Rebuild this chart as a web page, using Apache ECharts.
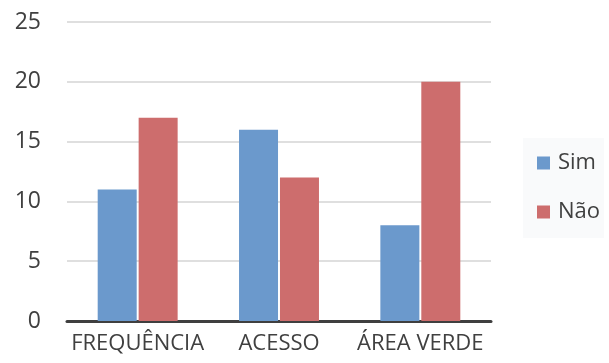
<!DOCTYPE html>
<html>
<head>
<meta charset="utf-8">
<script src="https://cdn.jsdelivr.net/npm/echarts@6/dist/echarts.min.js"></script>
<style>
  html, body { margin: 0; padding: 0; background: #ffffff; }
  #chart { width: 609px; height: 363px; }
</style>
</head>
<body>
<div id="chart"></div>
<script>
// Survey answers per topic
const categories = ['FREQUÊNCIA', 'ACESSO', 'ÁREA VERDE'];
const simValues = [11, 16, 8];
const naoValues = [17, 12, 20];
const yTicks = { min: 0, max: 25, interval: 5 };

const textColor = '#404040';
const fontFamily = '"Open Sans", "Noto Sans", sans-serif';

const chart = echarts.init(document.getElementById('chart'), null, { renderer: 'canvas' });

chart.setOption({
  animation: false,
  backgroundColor: '#ffffff',
  grid: { left: 67, right: 118, top: 22, bottom: 42, containLabel: false },
  legend: {
    orient: 'vertical',
    left: 523,
    top: 138,
    itemWidth: 13,
    itemHeight: 13,
    itemGap: 27,
    icon: 'rect',
    padding: [14, 4, 15, 14],
    backgroundColor: 'rgba(240,243,246,0.4)',
    textStyle: { color: textColor, fontSize: 22, fontWeight: 500, fontFamily: fontFamily, padding: [0, 0, 0, 3] },
    data: ['Sim', 'Não']
  },
  xAxis: {
    type: 'category',
    data: categories,
    axisTick: { show: false },
    axisLine: { show: true, lineStyle: { color: '#3f3f3f', width: 3 } },
    axisLabel: { color: textColor, fontSize: 22, fontWeight: 500, fontFamily: fontFamily, margin: 12, interval: 0 }
  },
  yAxis: {
    type: 'value',
    min: yTicks.min,
    max: yTicks.max,
    interval: yTicks.interval,
    axisLine: { show: false },
    axisTick: { show: false },
    axisLabel: { color: textColor, fontSize: 23, fontWeight: 500, fontFamily: fontFamily, margin: 26 },
    splitLine: { lineStyle: { color: '#d4d4d4', width: 1.5 } }
  },
  series: [
    {
      name: 'Sim',
      type: 'bar',
      data: simValues,
      barWidth: 39,
      barGap: '5%',
      itemStyle: { color: '#6b99cc' }
    },
    {
      name: 'Não',
      type: 'bar',
      data: naoValues,
      barWidth: 39,
      itemStyle: { color: '#cd6d6d' }
    }
  ]
});
</script>
</body>
</html>
